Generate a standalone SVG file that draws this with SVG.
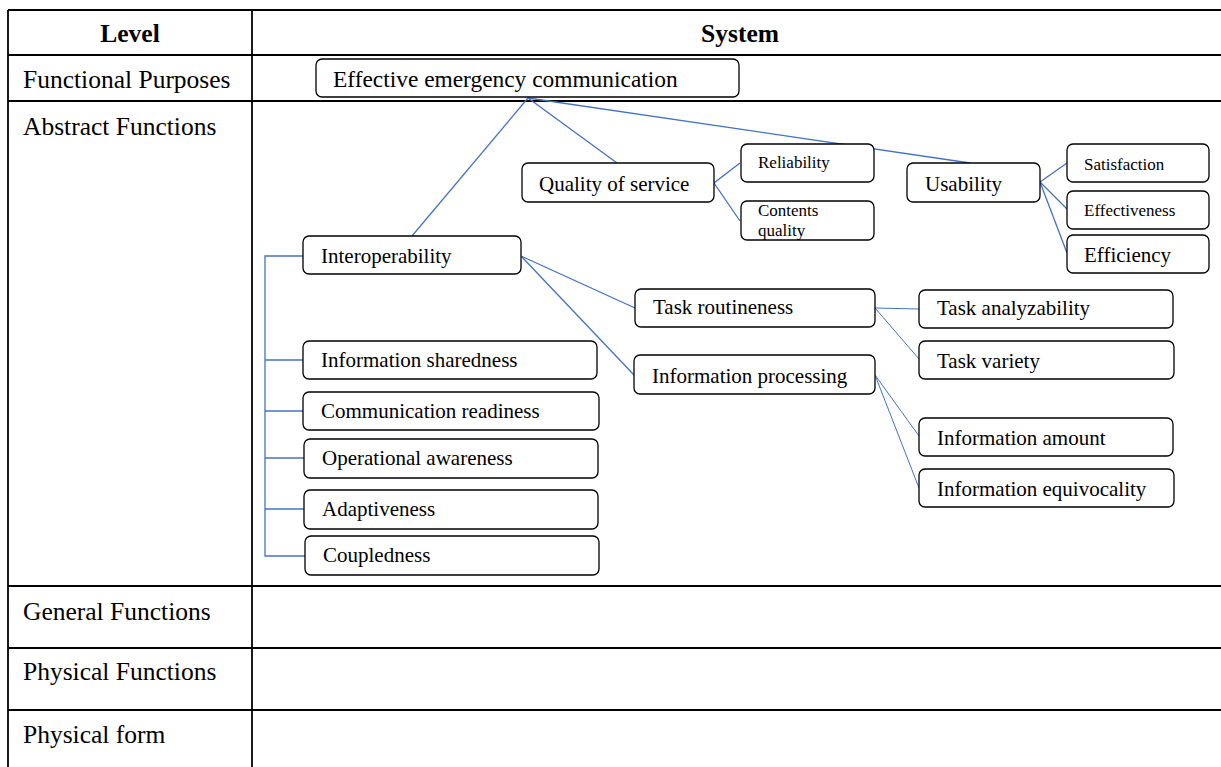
<svg xmlns="http://www.w3.org/2000/svg" width="1221" height="767" viewBox="0 0 1221 767">
  <style>
    .grid { stroke: #000; stroke-width: 1.8; fill: none; }
    .box { fill: #fff; stroke: #000; stroke-width: 1.3; }
    .lvl { font-family: "Liberation Serif", "Times New Roman", serif; font-size: 25.5px; fill: #000; }
    .hdr { font-family: "Liberation Serif", "Times New Roman", serif; font-size: 25.5px; font-weight: bold; fill: #000; text-anchor: middle; }
    .t { font-family: "Liberation Serif", "Times New Roman", serif; font-size: 21px; fill: #000; }
    .top { font-family: "Liberation Serif", "Times New Roman", serif; font-size: 23.4px; fill: #000; }
    .s { font-family: "Liberation Serif", "Times New Roman", serif; font-size: 17px; fill: #000; }
    .c { stroke: #4472C4; stroke-width: 1.3; fill: none; }
    .cthin { stroke: #4472C4; stroke-width: 1; fill: none; }
  </style>

  <rect width="1221" height="767" fill="#fff"/>

  <!-- table grid -->
  <g id="table">
    <line class="grid" x1="8" y1="10" x2="1221" y2="10"/>
    <line class="grid" x1="8" y1="55" x2="1221" y2="55"/>
    <line class="grid" x1="8" y1="101" x2="1221" y2="101"/>
    <line class="grid" x1="8" y1="586" x2="1221" y2="586"/>
    <line class="grid" x1="8" y1="648" x2="1221" y2="648"/>
    <line class="grid" x1="8" y1="710" x2="1221" y2="710"/>
    <line class="grid" x1="8" y1="10" x2="8" y2="767"/>
    <line class="grid" x1="252" y1="10" x2="252" y2="767"/>
    <text class="hdr" x="130" y="42">Level</text>
    <text class="hdr" x="740" y="42">System</text>
    <text class="lvl" x="23" y="88">Functional Purposes</text>
    <text class="lvl" x="23" y="135">Abstract Functions</text>
    <text class="lvl" x="23" y="620">General Functions</text>
    <text class="lvl" x="23" y="680">Physical Functions</text>
    <text class="lvl" x="23" y="743">Physical form</text>
  </g>

  <!-- connectors -->
  <g id="connectors">
    <line class="c" x1="528" y1="98" x2="412" y2="236"/>
    <line class="c" x1="528" y1="98" x2="617" y2="163"/>
    <line class="c" x1="528" y1="98" x2="970" y2="163"/>
    <polyline class="c" points="740,163 714,183 740,221"/>
    <line class="c" x1="1040" y1="182" x2="1067" y2="163"/>
    <line class="c" x1="1040" y1="182" x2="1067" y2="209"/>
    <line class="c" x1="1040" y1="182" x2="1067" y2="253"/>
    <line class="c" x1="521" y1="256" x2="635" y2="308"/>
    <line class="c" x1="521" y1="256" x2="634" y2="375"/>
    <line class="cthin" x1="875" y1="308" x2="919" y2="309"/>
    <line class="cthin" x1="875" y1="308" x2="919" y2="359"/>
    <line class="cthin" x1="875" y1="375" x2="919" y2="436"/>
    <line class="cthin" x1="875" y1="375" x2="919" y2="488"/>
    <polyline class="c" points="303,256 265,256 265,556 305,556"/>
    <line class="c" x1="265" y1="360" x2="303" y2="360"/>
    <line class="c" x1="265" y1="411" x2="303" y2="411"/>
    <line class="c" x1="265" y1="458" x2="304" y2="458"/>
    <line class="c" x1="265" y1="509" x2="304" y2="509"/>
  </g>

  <!-- nodes -->
  <g id="n-effective">
    <rect class="box" x="316" y="59" width="423" height="38" rx="6"/>
    <text class="top" x="333" y="87">Effective emergency communication</text>
  </g>
  <g id="n-qos">
    <rect class="box" x="522" y="163" width="192" height="39" rx="6"/>
    <text class="t" x="539" y="191">Quality of service</text>
  </g>
  <g id="n-reliability">
    <rect class="box" x="741" y="144" width="133" height="38" rx="6"/>
    <text class="s" x="758" y="168">Reliability</text>
  </g>
  <g id="n-contents">
    <rect class="box" x="741" y="201" width="133" height="39" rx="6"/>
    <text class="s" x="758" y="216">Contents</text>
    <text class="s" x="758" y="236">quality</text>
  </g>
  <g id="n-usability">
    <rect class="box" x="907" y="163" width="133" height="39" rx="6"/>
    <text class="t" x="925" y="191">Usability</text>
  </g>
  <g id="n-satisfaction">
    <rect class="box" x="1067" y="144" width="142" height="38" rx="6"/>
    <text class="s" x="1084" y="170">Satisfaction</text>
  </g>
  <g id="n-effectiveness">
    <rect class="box" x="1067" y="191" width="142" height="38" rx="6"/>
    <text class="s" x="1084" y="216">Effectiveness</text>
  </g>
  <g id="n-efficiency">
    <rect class="box" x="1067" y="235" width="142" height="38" rx="6"/>
    <text class="t" x="1084" y="262">Efficiency</text>
  </g>
  <g id="n-interoperability">
    <rect class="box" x="303" y="236" width="218" height="38" rx="6"/>
    <text class="t" x="321" y="263">Interoperability</text>
  </g>
  <g id="n-task-routineness">
    <rect class="box" x="635" y="289" width="240" height="38" rx="6"/>
    <text class="t" x="653" y="314">Task routineness</text>
  </g>
  <g id="n-task-analyzability">
    <rect class="box" x="919" y="290" width="254" height="38" rx="6"/>
    <text class="t" x="937" y="315">Task analyzability</text>
  </g>
  <g id="n-task-variety">
    <rect class="box" x="919" y="341" width="255" height="38" rx="6"/>
    <text class="t" x="937" y="368">Task variety</text>
  </g>
  <g id="n-info-processing">
    <rect class="box" x="634" y="355" width="241" height="39" rx="6"/>
    <text class="t" x="652" y="383">Information processing</text>
  </g>
  <g id="n-info-amount">
    <rect class="box" x="919" y="418" width="254" height="38" rx="6"/>
    <text class="t" x="937" y="445">Information amount</text>
  </g>
  <g id="n-info-equivocality">
    <rect class="box" x="919" y="469" width="255" height="38" rx="6"/>
    <text class="t" x="937" y="496">Information equivocality</text>
  </g>
  <g id="n-info-sharedness">
    <rect class="box" x="303" y="341" width="294" height="38" rx="6"/>
    <text class="t" x="321" y="367">Information sharedness</text>
  </g>
  <g id="n-comm-readiness">
    <rect class="box" x="303" y="392" width="296" height="38" rx="6"/>
    <text class="t" x="321" y="418">Communication readiness</text>
  </g>
  <g id="n-op-awareness">
    <rect class="box" x="304" y="439" width="294" height="39" rx="6"/>
    <text class="t" x="322" y="465">Operational awareness</text>
  </g>
  <g id="n-adaptiveness">
    <rect class="box" x="304" y="490" width="294" height="39" rx="6"/>
    <text class="t" x="322" y="516">Adaptiveness</text>
  </g>
  <g id="n-coupledness">
    <rect class="box" x="305" y="536" width="294" height="39" rx="6"/>
    <text class="t" x="323" y="562">Coupledness</text>
  </g>
</svg>
